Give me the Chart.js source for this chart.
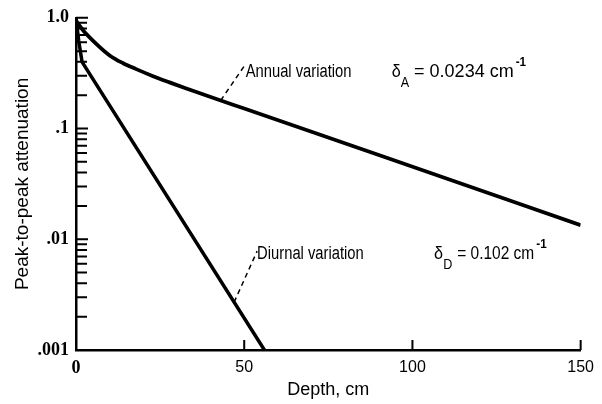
<!DOCTYPE html>
<html>
<head>
<meta charset="utf-8">
<script src="https://cdn.jsdelivr.net/npm/chart.js@4/dist/chart.umd.min.js"></script>
<style>
  html, body { margin: 0; padding: 0; background: #fff; }
  canvas { display: block; }
</style>
</head>
<body>
<canvas id="chart" width="602" height="404"></canvas>
<script>
// depth (cm) and peak-to-peak attenuation
const annualDepth = [0, 0.7, 2.2, 6.1, 10.1, 14, 17.9, 22.9, 27.8, 32.8, 37.7, 42.6, 50, 90, 150];
const annualAtt = [0.94, 0.877, 0.764, 0.579, 0.455, 0.389, 0.344, 0.297, 0.261, 0.23, 0.204, 0.181, 0.1515, 0.0576, 0.0134];
const diurnalDepth = [0, 0.8, 1.8, 56];
const diurnalAtt = [1.0, 0.62, 0.40, 0.001];

const xTicks = [0, 50, 100, 150];
const yTicks = [1, 0.1, 0.01, 0.001];
const yTickLabels = ['1.0', '.1', '.01', '.001'];

const sans = "'Liberation Sans', Arial, sans-serif";
const serif = "'Liberation Serif', 'Times New Roman', serif";

// labels on the curves: depth of the leader foot, text offset from it
const curveLabels = [
    { ds: 0, at: 43, dx: 25, dy: -23, lead: [24, -35], name: 'Annual variation', sub: 'A', value: '= 0.0234 cm', gap: 146, valueScale: 1.0 },
    { ds: 1, at: 47, dx: 23, dy: -43, lead: [23, -51], name: 'Diurnal variation', sub: 'D', value: '= 0.102 cm', gap: 177, valueScale: 0.86 }
];

function toPoints(xs, ys) {
    return xs.map((x, i) => ({ x: x, y: ys[i] }));
}

// log interpolation along a curve, used to put the leader foot on the line
function valueAt(xs, ys, x) {
    for (let i = 1; i < xs.length; i++) {
        if (x <= xs[i]) {
            const t = (x - xs[i - 1]) / (xs[i] - xs[i - 1]);
            return Math.pow(10, Math.log10(ys[i - 1]) + t * (Math.log10(ys[i]) - Math.log10(ys[i - 1])));
        }
    }
    return ys[ys.length - 1];
}

// squeezed text, the original lettering is a condensed face
function squeezed(ctx, str, x, y, sx) {
    ctx.save();
    ctx.translate(x, y);
    ctx.scale(sx, 1);
    ctx.fillText(str, 0, 0);
    ctx.restore();
    return ctx.measureText(str).width * sx;
}

const tickMarks = {
    id: 'tickMarks',
    afterDraw(chart) {
        const { ctx, chartArea, scales } = chart;
        const x = scales.x, y = scales.y;
        ctx.save();
        ctx.strokeStyle = '#000';
        ctx.lineWidth = 2;
        ctx.beginPath();
        // y ticks drawn inside the axis, majors plus 2..9 minors
        for (let d = 0; d < yTicks.length; d++) {
            const base = yTicks[d];
            const py = y.getPixelForValue(base);
            ctx.moveTo(chartArea.left, py);
            ctx.lineTo(chartArea.left + 12, py);
            if (d === 0) continue;
            for (let m = 2; m <= 9; m++) {
                const pm = y.getPixelForValue(base * m);
                ctx.moveTo(chartArea.left, pm);
                ctx.lineTo(chartArea.left + 11, pm);
            }
        }
        xTicks.slice(1).forEach(v => {
            const px = x.getPixelForValue(v);
            ctx.moveTo(px, chartArea.bottom);
            ctx.lineTo(px, chartArea.bottom - 10);
        });
        ctx.stroke();
        ctx.restore();
    },
    afterDatasetsDraw(chart) {
        const { ctx, scales } = chart;
        const sets = [[annualDepth, annualAtt], [diurnalDepth, diurnalAtt]];
        ctx.save();
        curveLabels.forEach(l => {
            const fx = scales.x.getPixelForValue(l.at);
            const fy = scales.y.getPixelForValue(valueAt(sets[l.ds][0], sets[l.ds][1], l.at));
            ctx.strokeStyle = '#000';
            ctx.lineWidth = 1.5;
            ctx.setLineDash([5, 4]);
            ctx.beginPath();
            ctx.moveTo(fx, fy);
            ctx.lineTo(fx + l.lead[0], fy + l.lead[1]);
            ctx.stroke();
            ctx.setLineDash([]);

            const tx = fx + l.dx, ty = fy + l.dy;
            ctx.fillStyle = '#000';
            ctx.textBaseline = 'alphabetic';
            ctx.textAlign = 'left';
            ctx.font = '18px ' + sans;
            squeezed(ctx, l.name, tx, ty, 0.82);
            let cx = tx + l.gap;
            cx += squeezed(ctx, '\u03b4', cx, ty, 0.9);
            ctx.font = '14px ' + sans;
            cx += squeezed(ctx, l.sub, cx, ty + 10, 0.9) + 5;
            ctx.font = '18px ' + sans;
            cx += squeezed(ctx, l.value, cx, ty, l.valueScale) + 2;
            ctx.font = 'bold 13px ' + sans;
            squeezed(ctx, '-1', cx, ty - 11, 0.9);
        });
        ctx.restore();
    }
};

Chart.defaults.color = '#000';

new Chart(document.getElementById('chart'), {
    type: 'line',
    data: {
        datasets: [
            { label: 'Annual variation', data: toPoints(annualDepth, annualAtt), borderColor: '#000', borderWidth: 3.8, pointRadius: 0, cubicInterpolationMode: 'monotone', fill: false },
            { label: 'Diurnal variation', data: toPoints(diurnalDepth, diurnalAtt), borderColor: '#000', borderWidth: 3.5, pointRadius: 0, tension: 0, fill: false }
        ]
    },
    options: {
        responsive: false,
        animation: false,
        layout: { padding: { left: 0, top: 17, right: 19, bottom: 0 } },
        plugins: { legend: { display: false }, tooltip: { enabled: false } },
        scales: {
            x: {
                type: 'linear', min: 0, max: 150,
                afterBuildTicks: s => { s.ticks = xTicks.map(v => ({ value: v })); },
                afterFit: s => { s.height = 54; },
                grid: { display: false, drawTicks: false },
                border: { display: true, color: '#000', width: 2.5 },
                ticks: {
                    padding: 8,
                    maxRotation: 0,
                    font: c => (c.index === 0 ? { family: serif, size: 18, weight: 'bold' } : { family: sans, size: 16 })
                },
                title: { display: true, text: 'Depth, cm', font: { family: sans, size: 18 }, padding: { top: 0, bottom: 3 } }
            },
            y: {
                type: 'logarithmic', min: 0.001, max: 1,
                afterBuildTicks: s => { s.ticks = yTicks.map(v => ({ value: v })); },
                afterFit: s => { s.width = 76; },
                grid: { display: false, drawTicks: false },
                border: { display: true, color: '#000', width: 2.5 },
                ticks: {
                    padding: 7,
                    font: { family: serif, size: 18, weight: 'bold' },
                    callback: v => yTickLabels[yTicks.indexOf(v)]
                },
                title: { display: true, text: 'Peak-to-peak attenuation', font: { family: sans, size: 19 }, padding: { top: 11, bottom: 0 } }
            }
        }
    },
    plugins: [tickMarks]
});
</script>
</body>
</html>
